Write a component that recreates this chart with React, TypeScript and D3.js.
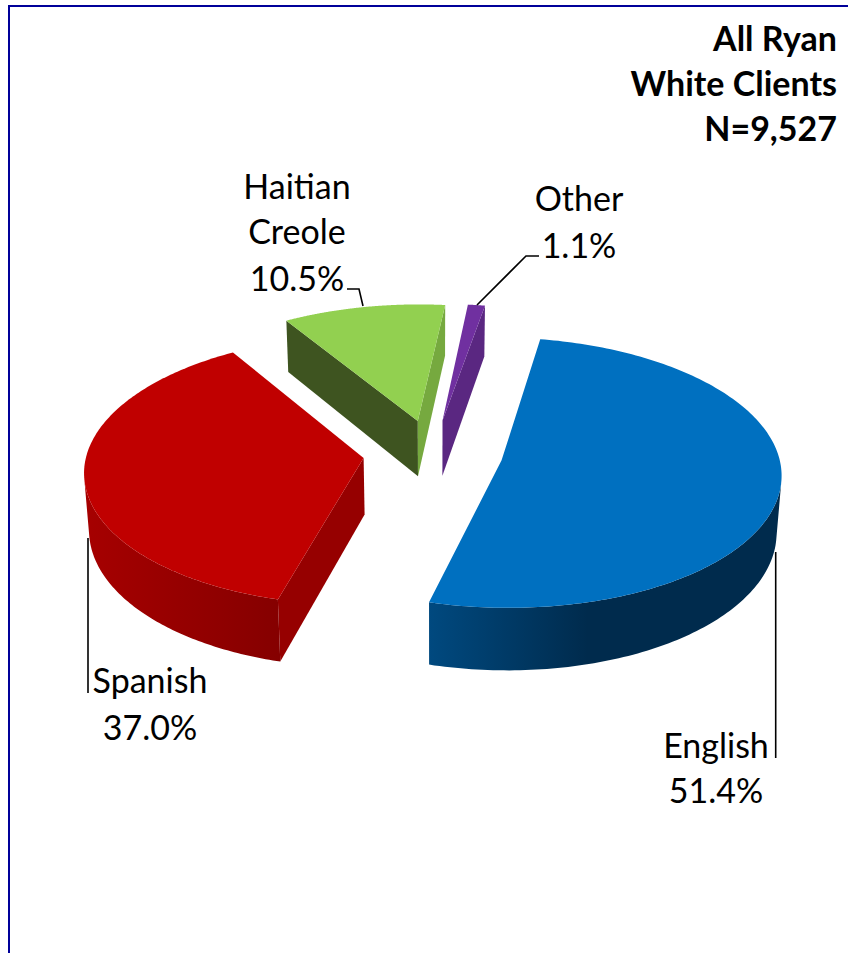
import React from "react";
import * as d3 from "d3";

// Chart values
const languages = ["English", "Spanish", "Haitian Creole", "Other"];
const shares = [51.4, 37.0, 10.5, 1.1];
const titleLines = ["All Ryan", "White Clients", "N=9,527"];

// Style per slice: top face, rim shading (left of wall / right of wall), radial walls
const topColors = ["#0070C0", "#C00000", "#92D050", "#7030A0"];
const rimLeft = ["#00497F", "#A60000", "#5A7F30", "#5A2781"];
const rimRight = ["#002B4D", "#850000", "#5A7F30", "#5A2781"];
const rimTurn = [0.45, 1, 1, 1];
const startWallColors = ["#002B4D", "#960000", "#3E5420", "#5A2781"];
const endWallColors = ["#00497F", "#960000", "#76A93F", "#5A2781"];

const borderColor = "#000099";
const width = 848;
const height = 953;

// Perspective camera for the tilted pie (unit radius disc)
const cx = 433;
const cy = 453;
const dist = 11;
const focalX = 3045;
const focalY = 1460;
const thickness = 622;
const explode = 0.2525;
const firstAngle = (10 * Math.PI) / 180;
const vanishDepth = 4000;

type Pt = [number, number];

function project(x: number, z: number): Pt {
  const w = dist + z;
  return [cx + (focalX * x) / w, cy - (focalY * z) / w];
}

// Same plan point on the underside of the pie
function drop(x: number, z: number): Pt {
  const [sx, sy] = project(x, z);
  const depth = thickness / (dist + z);
  return [sx + ((cx - sx) * depth) / vanishDepth, sy + depth];
}

const pieData = d3
  .pie<number>()
  .sort(null)
  .startAngle(firstAngle)
  .endAngle(firstAngle + 2 * Math.PI)(shares);

const linePath = d3.line();

function Slice({ index }: { index: number }) {
  const d = pieData[index];
  const mid = (d.startAngle + d.endAngle) / 2;
  const ax = explode * Math.sin(mid);
  const az = explode * Math.cos(mid);
  const rim = (a: number): Pt => [ax + Math.sin(a), az + Math.cos(a)];
  const angles = d3
    .range(0, 181)
    .map((i) => d.startAngle + ((d.endAngle - d.startAngle) * i) / 180);

  const topPts: Pt[] = [project(ax, az), ...angles.map((a) => project(...rim(a)))];

  // Rim part turned towards the camera (d3.polygonArea is positive for it)
  const facing = d3.pairs(angles).filter(
    ([a0, a1]) =>
      d3.polygonArea([
        project(...rim(a0)),
        project(...rim(a1)),
        drop(...rim(a1)),
        drop(...rim(a0)),
      ]) > 0
  );
  const rimAngles = facing.length ? [facing[0][0], ...facing.map((p) => p[1])] : [];
  const wallPts: Pt[] = [
    ...rimAngles.map((a) => project(...rim(a))),
    ...rimAngles
      .slice()
      .reverse()
      .map((a) => drop(...rim(a))),
  ];
  const [xMin, xMax] = d3.extent(wallPts, (p) => p[0]) as [number, number];

  const startRim = rim(d.startAngle);
  const endRim = rim(d.endAngle);
  const startWall: Pt[] = [
    project(ax, az),
    project(...startRim),
    drop(...startRim),
    drop(ax, az),
  ];
  const endWall: Pt[] = [
    project(...endRim),
    project(ax, az),
    drop(ax, az),
    drop(...endRim),
  ];

  return (
    <g>
      {d3.polygonArea(startWall) > 0 && (
        <path d={linePath(startWall) + "Z"} fill={startWallColors[index]} />
      )}
      {d3.polygonArea(endWall) > 0 && (
        <path d={linePath(endWall) + "Z"} fill={endWallColors[index]} />
      )}
      {wallPts.length > 0 && (
        <>
          <linearGradient
            id={`rim-${index}`}
            gradientUnits="userSpaceOnUse"
            x1={xMin}
            x2={xMax}
            y1={0}
            y2={0}
          >
            <stop offset={0} stopColor={rimLeft[index]} />
            <stop offset={rimTurn[index]} stopColor={rimRight[index]} />
          </linearGradient>
          <path d={linePath(wallPts) + "Z"} fill={`url(#rim-${index})`} />
        </>
      )}
      <path d={linePath(topPts) + "Z"} fill={topColors[index]} />
    </g>
  );
}

// Leader lines and data labels
const leaders: Pt[][] = [
  [[775.7, 552], [775.7, 758]],
  [[88, 538], [88, 693]],
  [[363, 306], [359, 289], [347, 289]],
  [[477, 305], [526, 256], [539, 256]],
];

const labelText = { fontFamily: "Lato, 'Open Sans', sans-serif", fontSize: 34, fill: "#000" };

export default function App() {
  const pct = shares.map((s) => d3.format(".1f")(s) + "%");
  return (
    <svg
      width={width}
      height={height}
      style={{ position: "absolute", left: 0, top: 0, display: "block", background: "#fff" }}
    >
      <path d={`M9,${height}V6H${width}`} fill="none" stroke={borderColor} strokeWidth={2} />

      {[3, 2, 1, 0].map((i) => (
        <Slice key={i} index={i} />
      ))}

      {leaders.map((l, i) => (
        <path key={i} d={linePath(l) ?? ""} fill="none" stroke="#000" strokeWidth={1.6} />
      ))}

      <g {...labelText} textAnchor="middle">
        <text x={716} y={758}>{languages[0]}</text>
        <text x={716} y={803}>{pct[0]}</text>
        <text x={150} y={693}>{languages[1]}</text>
        <text x={150} y={740}>{pct[1]}</text>
        <text x={297} y={199}>{languages[2].split(" ")[0]}</text>
        <text x={297} y={244}>{languages[2].split(" ")[1]}</text>
        <text x={297} y={291}>{pct[2]}</text>
        <text x={579} y={211}>{languages[3]}</text>
        <text x={579} y={258}>{pct[3]}</text>
      </g>

      <g
        fontFamily="Lato, 'Open Sans', sans-serif"
        fontSize={34}
        fontWeight={700}
        textAnchor="end"
        fill="#000"
      >
        {titleLines.map((t, i) => (
          <text key={t} x={837} y={51 + i * 45}>
            {t}
          </text>
        ))}
      </g>
    </svg>
  );
}
